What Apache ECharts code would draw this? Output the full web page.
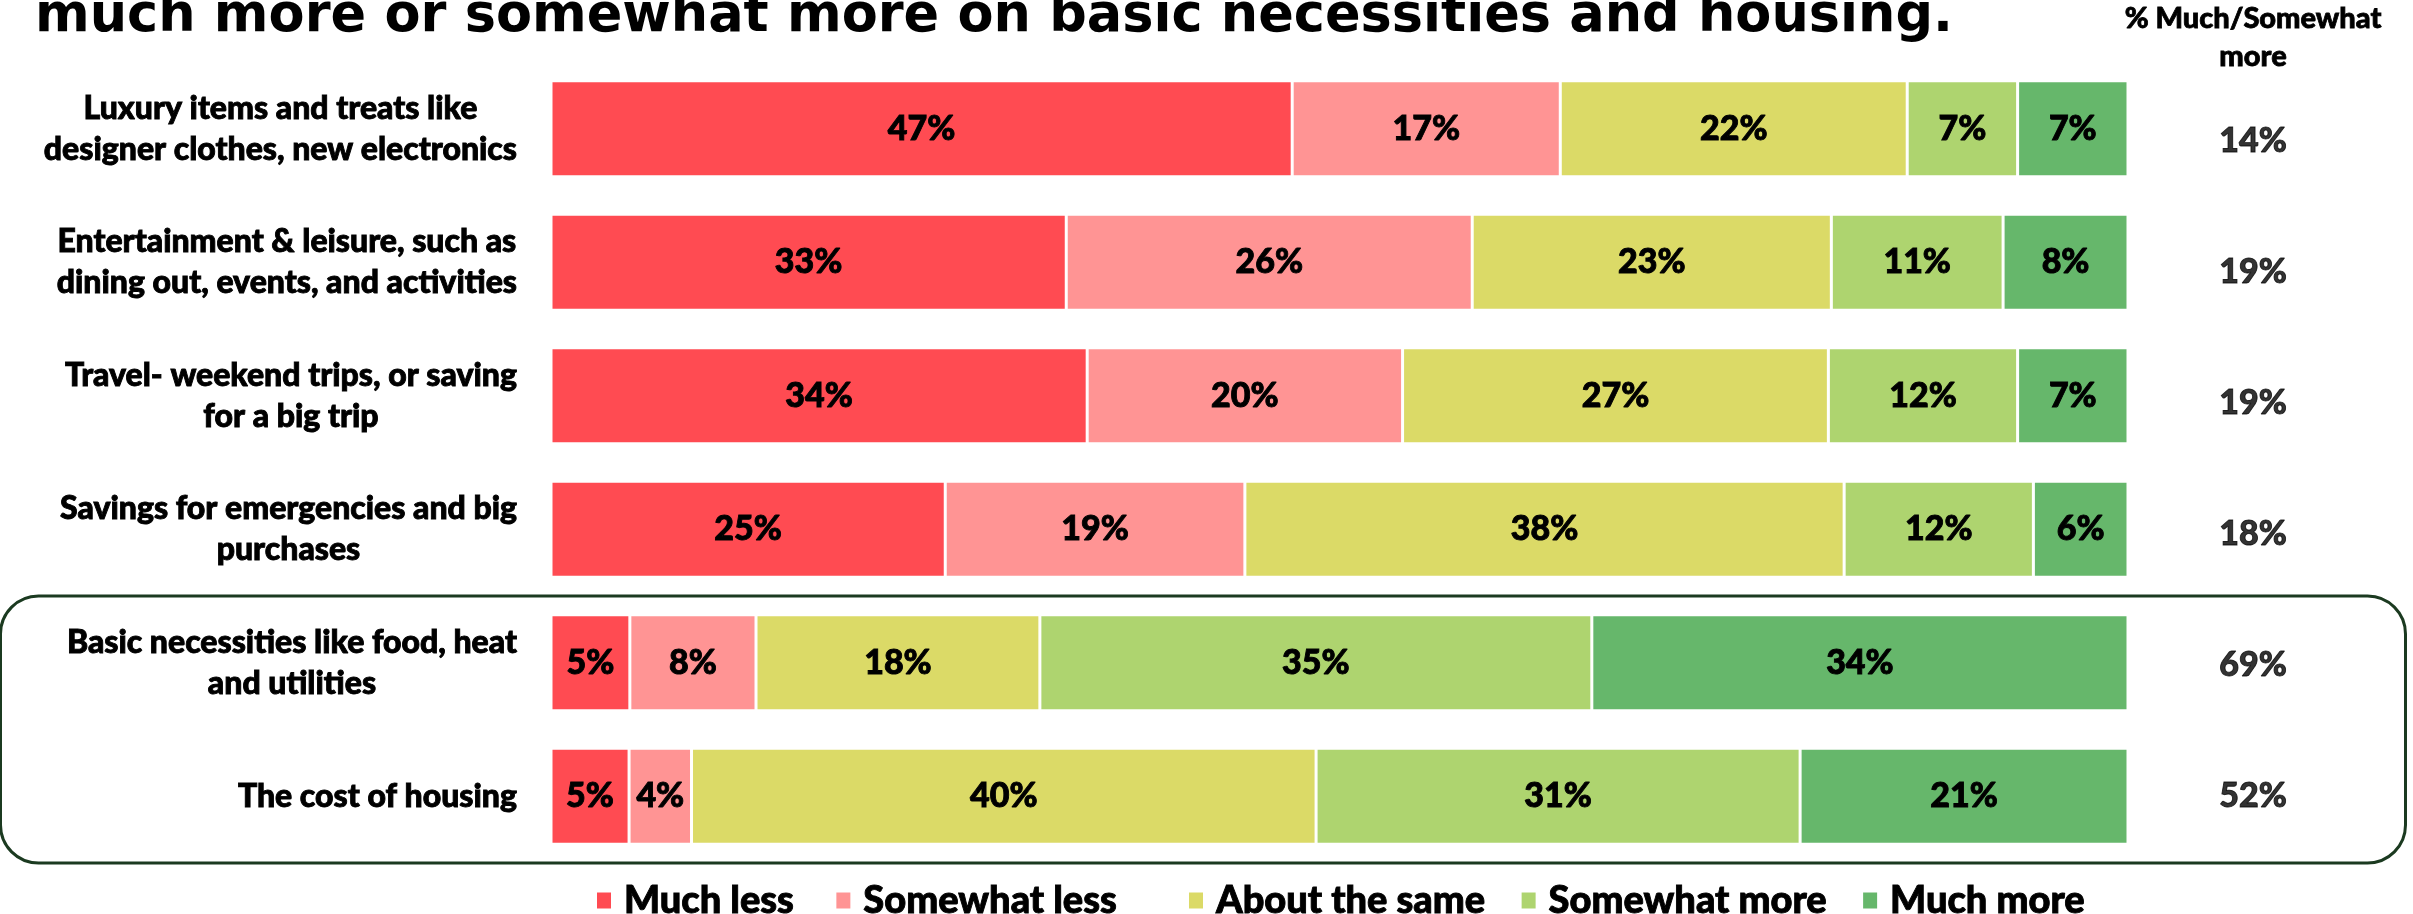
<!DOCTYPE html>
<html>
<head>
<meta charset="utf-8">
<script src="https://cdn.jsdelivr.net/npm/echarts@6/dist/echarts.min.js"></script>
<style>
  html, body { margin: 0; padding: 0; background: #ffffff; }
  #chart { width: 2413px; height: 914px; }
</style>
</head>
<body>
<div id="chart"></div>
<script>
// Spending categories, top to bottom
const categories = [
  'Luxury items and treats like\ndesigner clothes, new electronics',
  'Entertainment & leisure, such as\ndining out, events, and activities',
  'Travel- weekend trips, or saving\nfor a big trip',
  'Savings for emergencies and big\npurchases',
  'Basic necessities like food, heat\nand utilities',
  'The cost of housing'
];

// Answer scale
const seriesNames = ['Much less', 'Somewhat less', 'About the same', 'Somewhat more', 'Much more'];

// Share of respondents per answer (%)
const muchLess     = [47, 33, 34, 25, 5, 5];
const somewhatLess = [17, 26, 20, 19, 8, 4];
const aboutSame    = [22, 23, 27, 38, 18, 40];
const somewhatMore = [7, 11, 12, 12, 35, 31];
const muchMore     = [7, 8, 7, 6, 34, 21];

// Net "much / somewhat more" column (%)
const moreTotal = [14, 19, 19, 18, 69, 52];

const titleText = 'much more or somewhat more on basic necessities and housing.';
const totalHeader = '% Much/Somewhat\nmore';

const colors = ['#FF4B52', '#FF9494', '#DBDA67', '#AED46F', '#66B76B'];
const FONT = 'Lato, "Open Sans", sans-serif';
const HEAVY = 900;
// a thin outline in the text colour gives the labels a heavier stroke
const thick = { textBorderColor: '#000', textBorderWidth: 0.9 };

const raw = [muchLess, somewhatLess, aboutSame, somewhatMore, muchMore];
// each row is drawn as a 100% stacked bar
const rowTotals = categories.map((_, i) => raw.reduce((s, arr) => s + arr[i], 0));

const barSeries = raw.map((arr, k) => ({
  name: seriesNames[k],
  type: 'bar',
  stack: 'share',
  xAxisIndex: 0,
  yAxisIndex: 0,
  barWidth: '72%',
  data: arr.map((v, i) => v / rowTotals[i] * 100),
  itemStyle: { color: colors[k], borderColor: '#ffffff', borderWidth: 1.5 },
  label: Object.assign({
    show: true,
    position: 'inside',
    color: '#000',
    fontFamily: FONT,
    fontWeight: HEAVY,
    fontSize: 34,
    formatter: p => arr[p.dataIndex] + '%'
  }, thick),
  emphasis: { disabled: true }
}));

const chart = echarts.init(document.getElementById('chart'), null, { renderer: 'canvas' });

// legend in two groups: the "less" answers, then the rest
const legendBase = {
  top: 876,
  icon: 'rect',
  itemWidth: 16,
  itemHeight: 18,
  selectedMode: false,
  textStyle: Object.assign({
    fontFamily: FONT,
    fontWeight: HEAVY,
    fontSize: 38,
    color: '#000',
    padding: [0, 0, 0, 7]
  }, thick)
};

const option = {
  animation: false,
  backgroundColor: '#ffffff',
  color: colors,
  title: {
    text: titleText,
    left: 35,
    top: -9,
    padding: 0,
    textStyle: {
      fontFamily: '"DejaVu Sans", Verdana, sans-serif',
      fontWeight: 'bold',
      fontSize: 52.5,
      lineHeight: 52,
      color: '#000'
    }
  },
  legend: [
    Object.assign({}, legendBase, { data: seriesNames.slice(0, 2), left: 590, itemGap: 40 }),
    Object.assign({}, legendBase, { data: seriesNames.slice(2), left: 1182, itemGap: 34 })
  ],
  grid: [
    { left: 551, right: 285, top: 62, bottom: 51 },
    { left: 2120, right: 27, top: 75.5, bottom: 52.5 }
  ],
  xAxis: [
    { gridIndex: 0, type: 'value', min: 0, max: 100, show: false },
    { gridIndex: 1, type: 'value', min: 0, max: 1, show: false }
  ],
  yAxis: [
    {
      gridIndex: 0,
      type: 'category',
      data: categories,
      inverse: true,
      axisLine: { show: false },
      axisTick: { show: false },
      splitLine: { show: false },
      axisLabel: {
        margin: 34,
        formatter: v => v.split('\n').map(l => '{c|' + l + '}').join('\n'),
        rich: {
          c: Object.assign({
            align: 'center',
            fontFamily: FONT,
            fontWeight: HEAVY,
            fontSize: 32,
            lineHeight: 41,
            color: '#000'
          }, thick)
        }
      }
    },
    {
      gridIndex: 1,
      type: 'category',
      data: categories,
      inverse: true,
      show: false
    }
  ],
  series: barSeries.concat([{
    name: 'total',
    type: 'scatter',
    xAxisIndex: 1,
    yAxisIndex: 1,
    symbolSize: 1,
    itemStyle: { color: 'rgba(0,0,0,0)' },
    data: moreTotal.map((v, i) => [0.5, i, v]),
    encode: { x: 0, y: 1 },
    label: Object.assign({
      show: true,
      position: 'inside',
      color: '#000',
      fontFamily: FONT,
      fontWeight: HEAVY,
      fontSize: 34,
      formatter: p => p.value[2] + '%'
    }, thick),
    emphasis: { disabled: true }
  }])
};

chart.setOption(option);

// highlight frame around the last two categories, header above the total column
const c4 = chart.convertToPixel({ yAxisIndex: 0 }, categories[4]);
const c5 = chart.convertToPixel({ yAxisIndex: 0 }, categories[5]);
const band = c5 - c4;
const colX = chart.convertToPixel({ xAxisIndex: 1 }, 0.5);

chart.setOption({
  graphic: [
    {
      type: 'rect',
      z: 0,
      shape: { x: 0.5, y: c4 - band / 2, width: 2405, height: band * 2, r: 38 },
      style: { fill: 'none', stroke: '#1B3A20', lineWidth: 3 }
    },
    {
      type: 'text',
      x: colX,
      y: 0,
      style: {
        text: totalHeader,
        align: 'center',
        verticalAlign: 'top',
        fontFamily: FONT,
        fontWeight: HEAVY,
        fontSize: 29,
        lineHeight: 38,
        fill: '#000',
        stroke: '#000',
        lineWidth: 0.8
      }
    }
  ]
});
</script>
</body>
</html>
